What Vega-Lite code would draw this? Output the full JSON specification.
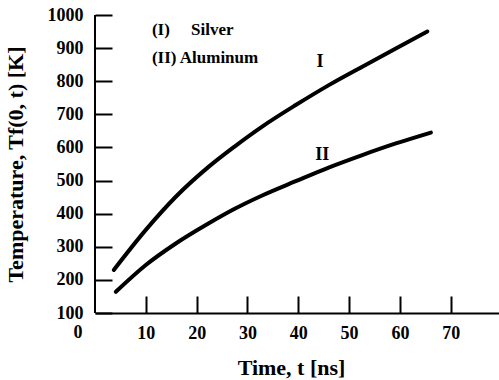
{
  "$schema": "https://vega.github.io/schema/vega-lite/v6.json",
  "width": 404,
  "height": 298,
  "autosize": {"type": "none"},
  "padding": {"left": 95, "top": 15, "right": 0, "bottom": 67},
  "background": "white",
  "config": {
    "view": {"stroke": null},
    "font": "Liberation Serif",
    "axis": {
      "domainColor": "black",
      "domainWidth": 2,
      "tickColor": "black",
      "tickWidth": 2,
      "labelFont": "Liberation Serif",
      "labelFontWeight": "bold",
      "labelFontSize": 18,
      "labelColor": "black",
      "titleFont": "Liberation Serif",
      "titleFontWeight": "bold",
      "titleFontSize": 22,
      "titleColor": "black",
      "grid": false
    }
  },
  "datasets": {
    "curves": [
      {"t": 3.7, "T": 230, "series": "I"},
      {"t": 10.0, "T": 351, "series": "I"},
      {"t": 15.9, "T": 451, "series": "I"},
      {"t": 22.4, "T": 542, "series": "I"},
      {"t": 27.4, "T": 602, "series": "I"},
      {"t": 32.9, "T": 663, "series": "I"},
      {"t": 39.5, "T": 728, "series": "I"},
      {"t": 46.1, "T": 789, "series": "I"},
      {"t": 52.6, "T": 844, "series": "I"},
      {"t": 59.2, "T": 899, "series": "I"},
      {"t": 65.4, "T": 950, "series": "I"},
      {"t": 4.1, "T": 164, "series": "II"},
      {"t": 10.0, "T": 245, "series": "II"},
      {"t": 15.9, "T": 310, "series": "II"},
      {"t": 22.4, "T": 371, "series": "II"},
      {"t": 27.4, "T": 414, "series": "II"},
      {"t": 32.9, "T": 455, "series": "II"},
      {"t": 39.5, "T": 498, "series": "II"},
      {"t": 46.1, "T": 540, "series": "II"},
      {"t": 52.6, "T": 577, "series": "II"},
      {"t": 59.2, "T": 612, "series": "II"},
      {"t": 66.1, "T": 645, "series": "II"}
    ],
    "notes": [
      {"t": 11.2, "T": 940, "text": "(I)\u00a0\u00a0\u00a0\u00a0 Silver"},
      {"t": 11.2, "T": 855, "text": "(II) Aluminum"}
    ],
    "curveLabels": [
      {"t": 44.3, "T": 843, "text": "I"},
      {"t": 44.7, "T": 562, "text": "II"}
    ],
    "zero": [
      {"t": 0, "T": 100, "text": "0"}
    ],
    "yline": [
      {"t": 0, "T": 100, "T2": 1000}
    ],
    "yticks": [
      {"T": 200}, {"T": 300}, {"T": 400}, {"T": 500}, {"T": 600},
      {"T": 700}, {"T": 800}, {"T": 900}, {"T": 1000}
    ]
  },
  "encoding": {
    "x": {
      "field": "t", "type": "quantitative",
      "scale": {"domain": [0, 79.5], "nice": false, "zero": false},
      "axis": {"values": [10, 20, 30, 40, 50, 60, 70], "title": "Time, t [ns]", "titleX": 196, "titleY": 61, "titleBaseline": "alphabetic", "tickSize": -17, "labelPadding": 28, "labelOverlap": false}
    },
    "y": {
      "field": "T", "type": "quantitative",
      "scale": {"domain": [100, 1000], "nice": false, "zero": false},
      "axis": {"values": [100, 200, 300, 400, 500, 600, 700, 800, 900, 1000], "format": "d", "title": "Temperature, Tf(0, t) [K]", "titleX": -90, "titleY": 149, "titleBaseline": "alphabetic", "titleAngle": -90, "domain": false, "offset": -17, "ticks": true, "tickSize": 17, "labelPadding": 12, "labelOverlap": false, "labelBound": false, "labelFlush": false}
    }
  },
  "layer": [
    {
      "data": {"name": "yline"},
      "mark": {"type": "rule", "color": "black", "strokeWidth": 2},
      "encoding": {
        "y2": {"field": "T2"}
      }
    },
    {
      "data": {"name": "yticks"},
      "mark": {"type": "rule", "color": "black", "strokeWidth": 2},
      "encoding": {
        "x": {"datum": 0, "type": "quantitative"},
        "x2": {"datum": 3.35}
      }
    },
    {
      "data": {"name": "curves"},
      "mark": {"type": "line", "interpolate": "monotone", "strokeWidth": 4, "color": "black", "strokeCap": "round"},
      "encoding": {
        "detail": {"field": "series"}
      }
    },
    {
      "data": {"name": "notes"},
      "mark": {"type": "text", "align": "left", "baseline": "alphabetic", "font": "Liberation Serif", "fontWeight": "bold", "fontSize": 17, "color": "black"},
      "encoding": {
        "text": {"field": "text"}
      }
    },
    {
      "data": {"name": "curveLabels"},
      "mark": {"type": "text", "align": "center", "baseline": "alphabetic", "font": "Liberation Serif", "fontWeight": "bold", "fontSize": 18, "color": "black"},
      "encoding": {
        "text": {"field": "text"}
      }
    },
    {
      "data": {"name": "zero"},
      "mark": {"type": "text", "align": "center", "baseline": "top", "dx": -17, "dy": 11, "font": "Liberation Serif", "fontWeight": "bold", "fontSize": 18, "color": "black"},
      "encoding": {
        "text": {"field": "text"}
      }
    }
  ]
}
